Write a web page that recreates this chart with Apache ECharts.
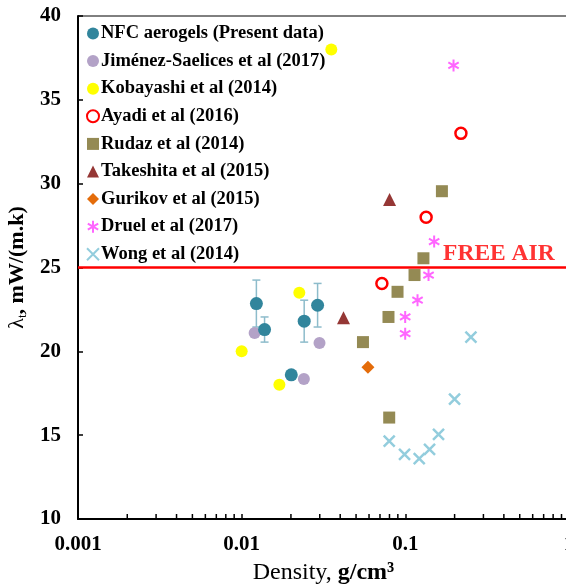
<!DOCTYPE html>
<html>
<head>
<meta charset="utf-8">
<script src="https://cdn.jsdelivr.net/npm/echarts@6/dist/echarts.min.js"></script>
<style>
html,body{margin:0;padding:0;background:#fff;}
#chart{width:566px;height:588px;}
</style>
</head>
<body>
<div id="chart"></div>
<script>
// ---- data ----
var nfcX = [0.0123, 0.0138, 0.0241, 0.0291, 0.0201];
var nfcY = [22.85, 21.3, 21.8, 22.75, 18.6];
var nfcErr = [1.4, 0.75, 1.25, 1.3, 0];

var jimX = [0.012, 0.0299, 0.024];
var jimY = [21.1, 20.5, 18.35];

var kobX = [0.01, 0.0225, 0.017, 0.0353];
var kobY = [20.0, 23.5, 18.0, 38.0];

var ayaX = [0.0719, 0.134, 0.2186];
var ayaY = [24.05, 28.0, 33.0];

var rudX = [0.1673, 0.129, 0.1138, 0.0896, 0.0789, 0.0551, 0.0797];
var rudY = [29.55, 25.55, 24.55, 23.55, 22.05, 20.55, 16.05];

var takX = [0.0801, 0.0419];
var takY = [29.05, 22.0];

var gurX = [0.0591];
var gurY = [19.05];

var druX = [0.197, 0.150, 0.1386, 0.1187, 0.0998, 0.0998];
var druY = [37.05, 26.55, 24.55, 23.05, 22.05, 21.05];

var wonX = [0.2516, 0.1999, 0.1595, 0.1406, 0.1216, 0.0989, 0.0797];
var wonY = [20.85, 17.15, 15.05, 14.15, 13.6, 13.85, 14.65];

var freeAirValue = 25;
var freeAirLabel = 'FREE AIR';
var freeAirLabelX = 0.170;

var xTickLabels = ['0.001', '0.01', '0.1', '1'];
var xMinorTicks = [0.002,0.003,0.004,0.005,0.006,0.007,0.008,0.009,
                   0.02,0.03,0.04,0.05,0.06,0.07,0.08,0.09,
                   0.2,0.3,0.4,0.5,0.6,0.7,0.8,0.9];

var names = ['NFC aerogels (Present data)', 'Jiménez-Saelices et al (2017)', 'Kobayashi et al (2014)',
  'Ayadi et al (2016)', 'Rudaz et al (2014)', 'Takeshita et al (2015)', 'Gurikov et al (2015)',
  'Druel et al (2017)', 'Wong et al (2014)'];

function zip(a, b) { return a.map(function (v, i) { return [v, b[i]]; }); }

var FONT = 'Liberation Serif';
var chart = echarts.init(document.getElementById('chart'), null, {renderer: 'canvas'});

var asterisk = 'path://M5,0 L5,10 M0.67,2.5 L9.33,7.5 M0.67,7.5 L9.33,2.5';
var xmark = 'path://M0,0 L10,10 M0,10 L10,0';

var option = {
  animation: false,
  backgroundColor: '#fff',
  grid: {left: 78, top: 16, width: 491, bottom: 69, show: true, borderColor: '#000', borderWidth: 1,
    containLabel: false, outerBoundsMode: 'none'},
  legend: {
    data: names,
    orient: 'vertical',
    left: 86, top: 24,
    itemWidth: 12, itemHeight: 12, itemGap: 8.6,
    textStyle: {fontFamily: FONT, fontWeight: 'bold', fontSize: 18.5, color: '#000', lineHeight: 18, padding: [0,0,0,-3]},
    padding: 0
  },
  xAxis: {
    type: 'log', logBase: 10, min: 0.001, max: 1,
    axisLine: {lineStyle: {color: '#000', width: 2}},
    axisTick: {show: true, inside: true, length: 5, lineStyle: {color: '#000', width: 1.5}},
    splitLine: {show: false},
    axisLabel: {
      fontFamily: FONT, fontWeight: 'bold', fontSize: 21, color: '#000', margin: 15,
      formatter: function (v) { var i = Math.round(Math.log10(v)) + 3; return xTickLabels[i]; }
    },
    name: '{a|Density, }{b|g/cm³}',
    nameLocation: 'middle', nameGap: 42,
    nameTextStyle: {rich: {
      a: {fontFamily: FONT, fontSize: 24, color: '#000'},
      b: {fontFamily: FONT, fontSize: 24, fontWeight: 'bold', color: '#000'}
    }}
  },
  yAxis: {
    type: 'value', min: 10, max: 40, interval: 5,
    axisLine: {show: true, lineStyle: {color: '#000', width: 2}},
    axisTick: {show: true, inside: true, length: 5, lineStyle: {color: '#000', width: 1.5}},
    splitLine: {show: false},
    axisLabel: {fontFamily: FONT, fontWeight: 'bold', fontSize: 21, color: '#000', margin: 17},
    name: '{l|λ}{s|t}{b|, mW/(m.k)}',
    nameLocation: 'middle', nameGap: 36, nameRotate: 90,
    nameTextStyle: {rich: {
      l: {fontFamily: FONT, fontSize: 22, color: '#000'},
      s: {fontFamily: FONT, fontSize: 13, color: '#000', padding: [10, 0, 0, 0]},
      b: {fontFamily: FONT, fontSize: 22, fontWeight: 'bold', color: '#000'}
    }}
  },
  series: [
    {
      type: 'line', name: 'freeair', data: [[0.001, freeAirValue], [1, freeAirValue]],
      symbol: 'none', lineStyle: {color: '#FF0000', width: 2.5}, z: 1, silent: true
    },
    {
      type: 'scatter', name: 'freeairlabel', data: [[freeAirLabelX, freeAirValue]], symbolSize: 0,
      label: {show: true, formatter: freeAirLabel, position: [0, -2], align: 'left', verticalAlign: 'bottom',
        fontFamily: FONT, fontWeight: 'bold', fontSize: 23.5, color: '#FF0000'}, silent: true
    },
    {
      type: 'custom', name: 'minorticks', data: xMinorTicks.map(function (v) { return [v, 10]; }),
      encode: {x: 0, y: 1}, silent: true, clip: false,
      renderItem: function (params, api) {
        var p = api.coord([api.value(0), api.value(1)]);
        return {type: 'line', shape: {x1: p[0], y1: p[1], x2: p[0], y2: p[1] - 5},
          style: {stroke: '#000', lineWidth: 1.5}};
      }
    },
    {
      type: 'custom', name: 'errbars', data: nfcX.map(function (v, i) { return [v, nfcY[i], nfcErr[i]]; }),
      encode: {x: 0, y: 1}, silent: true, z: 2,
      renderItem: function (params, api) {
        var x = api.value(0), y = api.value(1), e = api.value(2);
        if (!e) return null;
        var top = api.coord([x, y + e]), bot = api.coord([x, y - e]);
        var st = {stroke: '#8DBCCB', lineWidth: 1.5};
        return {type: 'group', children: [
          {type: 'line', shape: {x1: top[0], y1: top[1], x2: bot[0], y2: bot[1]}, style: st},
          {type: 'line', shape: {x1: top[0] - 4, y1: top[1], x2: top[0] + 4, y2: top[1]}, style: st},
          {type: 'line', shape: {x1: bot[0] - 4, y1: bot[1], x2: bot[0] + 4, y2: bot[1]}, style: st}
        ]};
      }
    },
    {type: 'scatter', name: names[0], data: zip(nfcX, nfcY), symbol: 'circle', symbolSize: 13,
      itemStyle: {color: '#31859C', opacity: 1}, z: 5},
    {type: 'scatter', name: names[1], data: zip(jimX, jimY), symbol: 'circle', symbolSize: 12,
      itemStyle: {color: '#B3A2C7', opacity: 1}, z: 4},
    {type: 'scatter', name: names[2], data: zip(kobX, kobY), symbol: 'circle', symbolSize: 12,
      itemStyle: {color: '#FFFF00', opacity: 1}, z: 4},
    {type: 'scatter', name: names[3], data: zip(ayaX, ayaY), symbol: 'circle', symbolSize: 11,
      itemStyle: {color: 'rgba(255,255,255,0)', borderColor: '#FF0000', borderWidth: 2.5, opacity: 1}, z: 4},
    {type: 'scatter', name: names[4], data: zip(rudX, rudY), symbol: 'rect', symbolSize: 12,
      itemStyle: {color: '#948A54', opacity: 1}, z: 4},
    {type: 'scatter', name: names[5], data: zip(takX, takY), symbol: 'triangle', symbolSize: 13,
      itemStyle: {color: '#953735', opacity: 1}, z: 4},
    {type: 'scatter', name: names[6], data: zip(gurX, gurY), symbol: 'diamond', symbolSize: 13,
      itemStyle: {color: '#E46C0A', opacity: 1}, z: 4},
    {type: 'scatter', name: names[7], data: zip(druX, druY), symbol: asterisk, symbolSize: 12, symbolKeepAspect: true,
      itemStyle: {color: 'rgba(0,0,0,0)', borderColor: '#FF66FF', borderWidth: 2, opacity: 1}, z: 4},
    {type: 'scatter', name: names[8], data: zip(wonX, wonY), symbol: xmark, symbolSize: 11,
      itemStyle: {color: 'rgba(0,0,0,0)', borderColor: '#93CDDD', borderWidth: 2.5, opacity: 1}, z: 4}
  ]
};
chart.setOption(option);
</script>
</body>
</html>
